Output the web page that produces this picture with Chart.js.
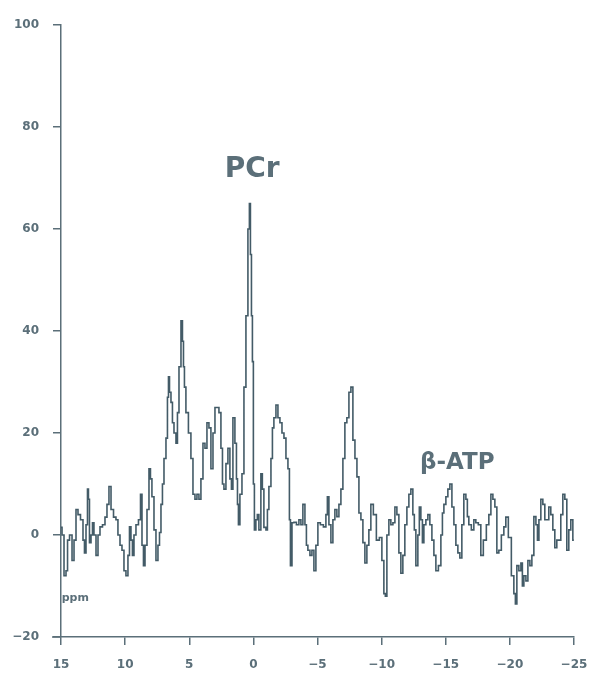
<!DOCTYPE html>
<html>
<head>
<meta charset="utf-8">
<script src="https://cdn.jsdelivr.net/npm/chart.js@4.4.1/dist/chart.umd.min.js"></script>
<style>
    html, body { margin: 0; padding: 0; background: #fff; }
    #wrap { width: 589px; height: 675px; }
</style>
</head>
<body>
<div id="wrap"><canvas id="spec" width="589" height="675"></canvas></div>
<script>
// 31P spectrum: shift (ppm) and signal
const ppm = [
    15.00, 14.84, 14.69, 14.53, 14.45, 14.22, 14.06, 13.91, 13.75, 13.60,
    13.36, 13.21, 13.13, 12.97, 12.90, 12.82, 12.74, 12.58, 12.51, 12.35,
    12.19, 12.04, 11.88, 11.65, 11.49, 11.34, 11.18, 11.02, 10.79, 10.64,
    10.48, 10.32, 10.17, 10.01, 9.86, 9.70, 9.62, 9.47, 9.39, 9.23,
    9.08, 8.84, 8.76, 8.61, 8.53, 8.37, 8.22, 8.06, 7.99, 7.83,
    7.67, 7.52, 7.36, 7.28, 7.13, 7.05, 6.89, 6.74, 6.66, 6.58,
    6.50, 6.35, 6.27, 6.11, 5.96, 5.88, 5.72, 5.57, 5.49, 5.41,
    5.34, 5.18, 4.95, 4.79, 4.63, 4.48, 4.32, 4.17, 4.01, 3.85,
    3.70, 3.54, 3.39, 3.23, 3.07, 2.92, 2.76, 2.61, 2.45, 2.37,
    2.22, 2.06, 1.91, 1.75, 1.67, 1.52, 1.36, 1.28, 1.20, 1.13,
    0.97, 0.81, 0.66, 0.50, 0.35, 0.27, 0.19, 0.11, 0.04, -0.04,
    -0.12, -0.27, -0.35, -0.51, -0.66, -0.74, -0.90, -1.06, -1.13, -1.29,
    -1.45, -1.52, -1.68, -1.84, -1.99, -2.15, -2.31, -2.46, -2.62, -2.77,
    -2.85, -2.93, -3.09, -3.24, -3.47, -3.63, -3.78, -3.94, -4.10, -4.17,
    -4.33, -4.49, -4.64, -4.80, -4.95, -5.11, -5.34, -5.58, -5.73, -5.81,
    -5.97, -6.12, -6.28, -6.43, -6.59, -6.75, -6.90, -7.06, -7.21, -7.37,
    -7.53, -7.68, -7.84, -8.00, -8.15, -8.31, -8.46, -8.62, -8.77, -8.93,
    -9.08, -9.24, -9.47, -9.71, -9.94, -10.10, -10.25, -10.33, -10.49, -10.64,
    -10.80, -10.96, -11.11, -11.27, -11.42, -11.58, -11.73, -11.89, -12.05, -12.20,
    -12.36, -12.51, -12.59, -12.75, -12.90, -12.98, -13.14, -13.22, -13.37, -13.53,
    -13.68, -13.84, -14.00, -14.15, -14.31, -14.54, -14.70, -14.78, -14.93, -15.09,
    -15.24, -15.40, -15.56, -15.71, -15.87, -16.02, -16.18, -16.33, -16.49, -16.65,
    -16.72, -16.88, -17.11, -17.27, -17.42, -17.66, -17.81, -18.05, -18.28, -18.44,
    -18.60, -18.75, -18.91, -19.06, -19.22, -19.45, -19.61, -19.76, -20.00, -20.23,
    -20.39, -20.47, -20.62, -20.78, -20.94, -21.01, -21.17, -21.33, -21.48, -21.64,
    -21.79, -21.95, -22.11, -22.19, -22.34, -22.49, -22.65, -22.80, -22.96, -23.11,
    -23.27, -23.43, -23.58, -23.74, -23.89, -24.05, -24.21, -24.36, -24.52, -24.67,
    -24.83, -24.99
];
const signal = [
    1.5, 0, -8, -7, -1, 0, -5, -1, 5, 4,
    3, -1, -3.5, 2, 9, 7, -1.5, 0, 2.4, 0,
    -4, 0, 1.6, 2, 3.5, 6, 9.5, 5, 3.5, 3,
    0, -2, -3, -7, -8, -4, 1.6, -1, -4, 0,
    2, 3, 8, -2, -6, -2, 5, 13, 11, 7.5,
    1, -5, -2, 0.5, 6, 10, 15, 19, 27, 31,
    28, 26, 22, 20, 18, 24, 33, 42, 38, 33,
    29, 24, 20, 15, 8, 7, 8, 7, 11, 18,
    17, 22, 21, 13, 20, 25, 25, 24, 17, 10,
    9, 14, 17, 11, 9, 23, 18, 11, 6, 2,
    8, 12, 29, 43, 60, 65, 55, 43, 34, 10,
    1, 3, 4, 1, 12, 9, 1.5, 1, 5, 9.5,
    15, 21, 23, 25.5, 23, 22, 20, 19, 15, 13,
    3, -6, 2.4, 2.5, 2, 3, 2, 6, 2, -2,
    -3, -4, -3, -7, -2, 2.4, 2, 1.6, 4, 7.5,
    2, -1.5, 3, 5, 3.6, 6, 9, 15, 22, 23,
    28, 29, 18.6, 15, 11.4, 4.3, 3, -1.5, -5.5, -2,
    1, 6, 4, -1, -0.5, -5, -11.5, -12, 0, 3,
    2, 2.4, 5.5, 4, -3.5, -7.5, -4, 2, 5.5, 8,
    9, 4, 1, -6, 0, 5.5, 3, -1.5, 2, 3,
    4, 2, -1, -4, -7, -6, 0, 4.3, 6, 7.5,
    9, 10, 5.5, 2, -2, -3.5, -4.5, 2, 8, 7,
    3.6, 2, 1, 3, 2.4, 2, -4, -1, 2, 4,
    8, 7, 5.5, -3.5, -3, 0, 1.6, 3.5, -0.5, -8,
    -11.5, -13.5, -6, -7, -5.5, -10, -8, -9, -5, -6,
    -4, 3.6, 2, -1, 3, 7, 6, 3, 3, 5.5,
    4, 1, -2.5, -1, -1, 4, 8, 7, -3, 1,
    3, -1
];

// peak labels: text, ppm, signal
const peakText = ['PCr', 'β-ATP'];
const peakX = [0.1, -15.9];
const peakY = [71.6, 14.2];
const peakSize = [28, 23];

const ink = '#435b67';
const axisInk = '#5b6f79';
const fontFam = '"DejaVu Sans", "Liberation Sans", sans-serif';

const points = ppm.map((x, i) => ({ x: x, y: signal[i] }));

const labelsPlugin = {
    id: 'peakLabels',
    afterDatasetsDraw(chart) {
        const ctx = chart.ctx;
        const xs = chart.scales.x, ys = chart.scales.y;
        const area = chart.chartArea;
        ctx.save();
        // x axis runs a little past the y axis on the left
        ctx.strokeStyle = axisInk;
        ctx.lineWidth = 1.5;
        ctx.beginPath();
        ctx.moveTo(area.left - 9, area.bottom);
        ctx.lineTo(area.left, area.bottom);
        ctx.stroke();

        ctx.fillStyle = axisInk;
        ctx.textAlign = 'center';
        ctx.textBaseline = 'middle';
        peakText.forEach((t, i) => {
            ctx.font = 'bold ' + peakSize[i] + 'px ' + fontFam;
            ctx.fillText(t, xs.getPixelForValue(peakX[i]), ys.getPixelForValue(peakY[i]));
        });
        // unit label near the bottom of the y axis
        ctx.font = 'bold 11px ' + fontFam;
        ctx.textAlign = 'left';
        ctx.fillText('ppm', xs.getPixelForValue(14.95), ys.getPixelForValue(-12.4));
        ctx.restore();
    }
};

const ctx = document.getElementById('spec');
new Chart(ctx, {
    type: 'line',
    data: {
        datasets: [{
            data: points,
            borderColor: ink,
            borderWidth: 1.6,
            pointRadius: 0,
            stepped: 'middle',
            fill: false
        }]
    },
    options: {
        responsive: false,
        animation: false,
        layout: { padding: { top: 25, right: 15, left: 0, bottom: 0 } },
        plugins: { legend: { display: false }, tooltip: { enabled: false } },
        scales: {
            x: {
                type: 'linear',
                reverse: true,
                min: -25,
                max: 15,
                afterFit: (s) => {
                    s.height = 38;
                    s.paddingRight = 0;
                    s.paddingLeft = 0;
                },
                border: { color: axisInk, width: 1.5 },
                grid: { drawOnChartArea: false, drawTicks: true, tickLength: 8, color: axisInk, lineWidth: 1.5 },
                ticks: {
                    stepSize: 5,
                    padding: 13,
                    color: axisInk,
                    font: { family: fontFam, size: 12, weight: 'bold' },
                    callback: (v) => String(v).replace('-', '−')
                }
            },
            y: {
                min: -20,
                max: 100,
                afterFit: (s) => { s.width = 61; },
                border: { color: axisInk, width: 1.5 },
                grid: { drawOnChartArea: false, drawTicks: true, tickLength: 8, color: axisInk, lineWidth: 1.5 },
                ticks: {
                    stepSize: 20,
                    padding: 14,
                    color: axisInk,
                    font: { family: fontFam, size: 12, weight: 'bold' },
                    callback: (v) => String(v).replace('-', '−')
                }
            }
        }
    },
    plugins: [labelsPlugin]
});
</script>
</body>
</html>
